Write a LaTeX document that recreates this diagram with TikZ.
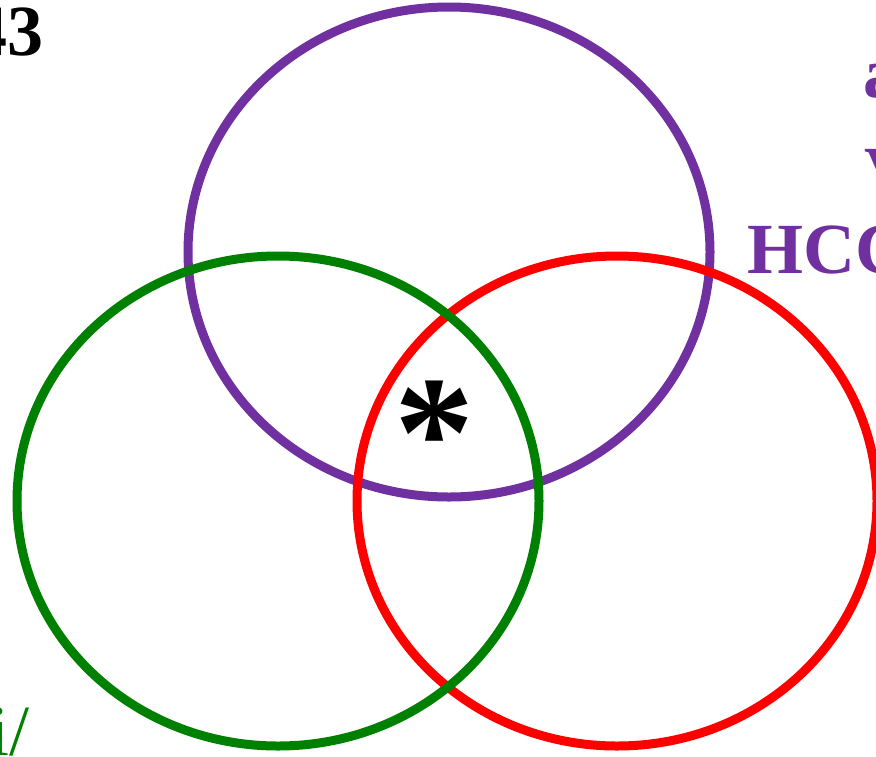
\documentclass[tikz,border=0pt]{standalone}
\usepackage{fontspec}
\setmainfont{Liberation Serif}
\usetikzlibrary{positioning}

\definecolor{setpurple}{HTML}{7030A0}
\definecolor{setgreen}{HTML}{008000}
\definecolor{setred}{HTML}{FF0000}

\begin{document}
\begin{tikzpicture}[
    x=1pt, y=-1pt,
    ring/.style={draw, line width=9pt},
    label/.style={anchor=base west, inner sep=0pt, font=\fontsize{72}{72}\selectfont\bfseries}
]
    \useasboundingbox (0,0) rectangle (876,756);
    \clip (0,0) rectangle (876,756);

    % the three sets
    \draw[ring, setpurple] (449,252) ellipse [x radius=261pt, y radius=245pt];
    \draw[ring, setred] (617,501) ellipse [x radius=260pt, y radius=245pt];
    \draw[ring, setgreen] (278,501) ellipse [x radius=261pt, y radius=245pt];

    % texts at the borders
    \node[label] (num) at (-29,55) {43};
    \node[label, setpurple] (pa) at (863,97) {a};
    \node[label, setpurple] (pv) at (864,196) {V};
    \node[label, setpurple] (phcc) at (747,273) {HCC};
    \node[label, setgreen, font=\fontsize{72}{72}\selectfont] (gi) at (-11,755) {i/};

    % common part
    \node[label, font=\fontsize{160}{160}\selectfont\bfseries] (star) at (394,486) {*};
\end{tikzpicture}
\end{document}
